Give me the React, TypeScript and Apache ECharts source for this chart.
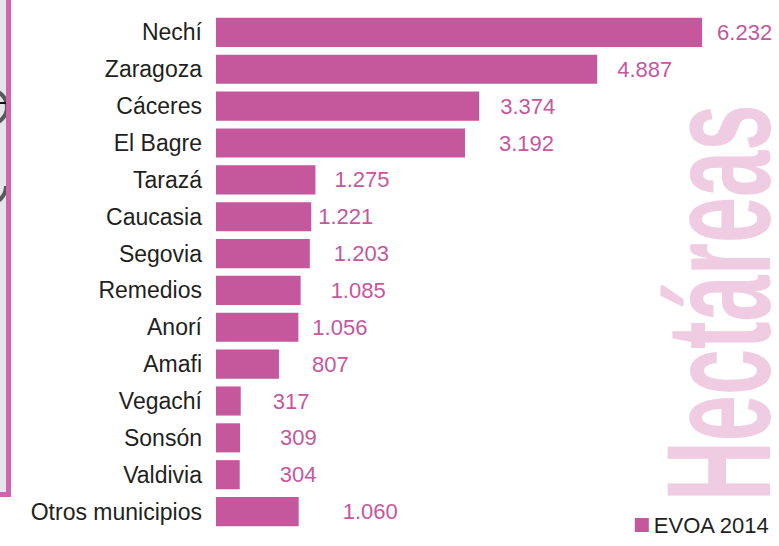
import React, { useEffect, useRef } from "react";
import * as echarts from "echarts";

const categories = [
  "Nechí",
  "Zaragoza",
  "Cáceres",
  "El Bagre",
  "Tarazá",
  "Caucasia",
  "Segovia",
  "Remedios",
  "Anorí",
  "Amafi",
  "Vegachí",
  "Sonsón",
  "Valdivia",
  "Otros municipios",
];

const hectareas = [6232, 4887, 3374, 3192, 1275, 1221, 1203, 1085, 1056, 807, 317, 309, 304, 1060];

// gap (px) between the end of each bar and its value label, as in the reference
const labelGaps = [15, 20, 21, 34, 19, 7, 24, 30, 14, 33, 32, 40, 40, 44];

const seriesName = "EVOA 2014";
const axisTitle = "Hectáreas";

const PINK = "#c5579d";
const FONT = '"Liberation Sans", Arial, Helvetica, sans-serif';

function fmt(v: number): string {
  if (v >= 1000) {
    const th = Math.floor(v / 1000);
    const rest = String(v % 1000).padStart(3, "0");
    return th + "." + rest;
  }
  return String(v);
}

export default function App() {
  const ref = useRef<HTMLDivElement>(null);

  useEffect(() => {
    if (!ref.current) return;
    const chart = echarts.init(ref.current, null, { renderer: "svg" });
    chart.setOption({
      animation: false,
      backgroundColor: "#ffffff",
      grid: { left: 216, right: 17, top: 14, bottom: 16, containLabel: false },
      xAxis: {
        type: "value",
        min: 0,
        max: 7000,
        show: false,
      },
      yAxis: {
        type: "category",
        data: categories,
        inverse: true,
        axisLine: { show: false },
        axisTick: { show: false },
        axisLabel: {
          margin: 14,
          fontSize: 23,
          fontFamily: FONT,
          color: "#231f20",
        },
      },
      legend: {
        data: [seriesName],
        right: 4,
        top: 509,
        icon: "rect",
        itemWidth: 14,
        itemHeight: 14,
        itemGap: 10,
        textStyle: { fontSize: 22, fontFamily: FONT, color: "#231f20" },
      },
      series: [
        {
          name: seriesName,
          type: "bar",
          barCategoryGap: "21%",
          itemStyle: { color: PINK },
          label: {
            show: true,
            position: "right",
            fontSize: 22,
            fontFamily: FONT,
            color: PINK,
            formatter: (p: any) => fmt(p.value),
          },
          data: hectareas.map((v, i) => ({
            value: v,
            label: { distance: labelGaps[i] },
          })),
        },
      ],
      graphic: [
        {
          type: "text",
          x: 718,
          y: 501,
          rotation: Math.PI / 2,
          scaleX: 0.56,
          scaleY: 1,
          z: -10,
          silent: true,
          style: {
            text: axisTitle,
            fontSize: 148,
            lineHeight: 108,
            fontWeight: "bold",
            fontFamily: FONT,
            fill: "#efcce2",
            align: "left",
            verticalAlign: "middle",
          },
        },
        {
          type: "rect",
          shape: { x: 0, y: 0, width: 8, height: 493 },
          style: { fill: "#e6e6ea" },
          silent: true,
        },
        {
          type: "arc",
          shape: { cx: -10, cy: 107, r: 17, startAngle: -Math.PI / 2, endAngle: Math.PI / 2 },
          style: { stroke: "#58585a", lineWidth: 4, fill: "none" },
          silent: true,
        },
        {
          type: "arc",
          shape: { cx: -12, cy: 186, r: 18, startAngle: 0, endAngle: Math.PI / 2 },
          style: { stroke: "#58585a", lineWidth: 4, fill: "none" },
          silent: true,
        },
        {
          type: "line",
          shape: { x1: 0, y1: 103, x2: 6, y2: 103 },
          style: { stroke: "#111111", lineWidth: 2 },
          silent: true,
        },
        {
          type: "rect",
          shape: { x: 6, y: 0, width: 5, height: 497 },
          style: { fill: "#d064b0" },
          silent: true,
        },
        {
          type: "rect",
          shape: { x: 0, y: 492, width: 11, height: 5 },
          style: { fill: "#d064b0" },
          silent: true,
        },
      ],
    });
    return () => chart.dispose();
  }, []);

  return (
    <div
      ref={ref}
      style={{ position: "absolute", left: 0, top: 0, width: 779, height: 546 }}
    />
  );
}
